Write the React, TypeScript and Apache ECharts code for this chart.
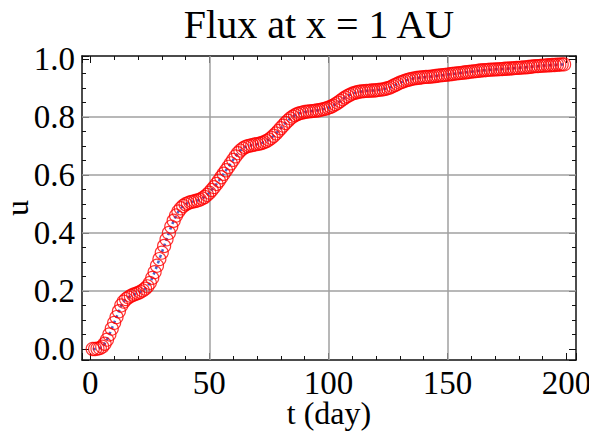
import React, { useEffect, useRef } from "react";
import * as echarts from "echarts";

const TITLE = "Flux at x = 1 AU";
const X_NAME = "t (day)";
const Y_NAME = "u";

const days = [
  1, 2, 3, 4, 5, 6, 7, 8, 9, 10, 11, 12, 13, 14, 15, 16, 17, 18, 19, 20,
  21, 22, 23, 24, 25, 26, 27, 28, 29, 30, 31, 32, 33, 34, 35, 36, 37, 38, 39, 40,
  41, 42, 43, 44, 45, 46, 47, 48, 49, 50, 51, 52, 53, 54, 55, 56, 57, 58, 59, 60,
  61, 62, 63, 64, 65, 66, 67, 68, 69, 70, 71, 72, 73, 74, 75, 76, 77, 78, 79, 80,
  81, 82, 83, 84, 85, 86, 87, 88, 89, 90, 91, 92, 93, 94, 95, 96, 97, 98, 99, 100,
  101, 102, 103, 104, 105, 106, 107, 108, 109, 110, 111, 112, 113, 114, 115, 116, 117, 118, 119, 120,
  121, 122, 123, 124, 125, 126, 127, 128, 129, 130, 131, 132, 133, 134, 135, 136, 137, 138, 139, 140,
  141, 142, 143, 144, 145, 146, 147, 148, 149, 150, 151, 152, 153, 154, 155, 156, 157, 158, 159, 160,
  161, 162, 163, 164, 165, 166, 167, 168, 169, 170, 171, 172, 173, 174, 175, 176, 177, 178, 179, 180,
  181, 182, 183, 184, 185, 186, 187, 188, 189, 190, 191, 192, 193, 194, 195, 196, 197, 198, 199,
];

const flux = [
  0.0, 0.0, 0.001, 0.003, 0.008, 0.018, 0.032, 0.05, 0.07, 0.09,
  0.11, 0.13, 0.15, 0.163, 0.172, 0.178, 0.183, 0.187, 0.19, 0.193,
  0.197, 0.202, 0.208, 0.216, 0.228, 0.245, 0.265, 0.287, 0.31, 0.332,
  0.355, 0.378, 0.4, 0.422, 0.442, 0.46, 0.474, 0.485, 0.493, 0.499,
  0.503, 0.506, 0.508, 0.51, 0.512, 0.515, 0.519, 0.524, 0.531, 0.539,
  0.548, 0.558, 0.569, 0.58, 0.592, 0.604, 0.616, 0.628, 0.64, 0.652,
  0.664, 0.675, 0.684, 0.691, 0.696, 0.699, 0.701, 0.703, 0.705, 0.706,
  0.708, 0.71, 0.713, 0.717, 0.722, 0.728, 0.735, 0.743, 0.752, 0.761,
  0.77, 0.779, 0.787, 0.795, 0.801, 0.806, 0.81, 0.813, 0.815, 0.817,
  0.818, 0.819, 0.82, 0.821, 0.822, 0.823, 0.825, 0.827, 0.829, 0.832,
  0.835, 0.839, 0.844, 0.849, 0.855, 0.861, 0.867, 0.872, 0.876, 0.88,
  0.883, 0.885, 0.887, 0.888, 0.889, 0.89, 0.89, 0.891, 0.891, 0.892,
  0.893, 0.894, 0.895, 0.897, 0.899, 0.902, 0.906, 0.91, 0.914, 0.918,
  0.921, 0.924, 0.927, 0.929, 0.931, 0.933, 0.934, 0.935, 0.936, 0.937,
  0.938, 0.938, 0.939, 0.94, 0.941, 0.942, 0.943, 0.944, 0.945, 0.946,
  0.947, 0.948, 0.949, 0.95, 0.951, 0.952, 0.953, 0.954, 0.955, 0.956,
  0.957, 0.958, 0.959, 0.96, 0.961, 0.961, 0.962, 0.963, 0.963, 0.964,
  0.964, 0.965, 0.965, 0.966, 0.966, 0.967, 0.967, 0.968, 0.969, 0.969,
  0.97, 0.971, 0.971, 0.972, 0.973, 0.974, 0.975, 0.975, 0.976, 0.977,
  0.977, 0.978, 0.978, 0.979, 0.979, 0.98, 0.98, 0.981, 0.981,
];

const xGridLines = [50, 100, 150];
const yGridLines = [0.2, 0.4, 0.6, 0.8];
const X_RANGE = [-3.5, 204];
const Y_RANGE = [-0.038, 1.01];
const X_STEP = 50;
const Y_STEP = 0.2;

const FONT = "Liberation Serif";

export default function App() {
  const ref = useRef<HTMLDivElement>(null);
  useEffect(() => {
    if (!ref.current) return;
    const chart = echarts.init(ref.current, null, { renderer: "svg" });
    const points = days.map((d, i) => [d, flux[i]]);

    const xBase = (pos: "bottom" | "top", showLabel: boolean) => ({
      type: "value",
      position: pos,
      min: X_RANGE[0],
      max: X_RANGE[1],
      splitNumber: 4,
      minInterval: X_STEP,
      maxInterval: X_STEP,
      axisLine: { show: true, onZero: false, lineStyle: { color: "#111", width: 1.5 } },
      axisTick: { show: true, inside: true, length: 7, lineStyle: { color: "#111", width: 1 } },
      minorTick: { show: true, splitNumber: 5, length: 4, lineStyle: { color: "#111", width: 1 } },
      splitLine: { show: false },
      axisLabel: {
        show: showLabel,
        showMinLabel: false,
        showMaxLabel: false,
        hideOverlap: false,
        margin: 6,
        color: "#000",
        fontFamily: FONT,
        fontSize: 33,
      },
      name: showLabel ? X_NAME : "",
      nameLocation: "middle",
      nameGap: 37,
      nameMoveOverlap: false,
      nameTextStyle: { color: "#000", fontFamily: FONT, fontSize: 32 },
    });

    const yBase = (pos: "left" | "right", showLabel: boolean) => ({
      type: "value",
      position: pos,
      min: Y_RANGE[0],
      max: Y_RANGE[1],
      splitNumber: 5,
      minInterval: Y_STEP,
      maxInterval: Y_STEP,
      axisLine: { show: true, onZero: false, lineStyle: { color: "#111", width: 1.5 } },
      axisTick: { show: true, inside: true, length: 7, lineStyle: { color: "#111", width: 1 } },
      minorTick: { show: true, splitNumber: 4, length: 4, lineStyle: { color: "#111", width: 1 } },
      splitLine: { show: false },
      axisLabel: {
        show: showLabel,
        showMinLabel: false,
        showMaxLabel: false,
        hideOverlap: false,
        margin: 7,
        color: "#000",
        fontFamily: FONT,
        fontSize: 33,
        formatter: (v: number) => v.toFixed(1),
      },
      name: showLabel ? Y_NAME : "",
      nameLocation: "middle",
      nameGap: 49,
      nameRotate: 90,
      nameMoveOverlap: false,
      nameTextStyle: { color: "#000", fontFamily: FONT, fontSize: 32 },
    });

    chart.setOption({
      animation: false,
      backgroundColor: "#fff",
      grid: {
        left: 82,
        right: 13,
        top: 56,
        bottom: 74,
        containLabel: false,
        outerBoundsMode: "none",
      },
      graphic: [
        {
          type: "text",
          x: 319,
          y: 24,
          style: {
            text: TITLE,
            fill: "#000",
            font: `40px "${FONT}"`,
            align: "center",
            verticalAlign: "middle",
          },
        },
      ],
      xAxis: [xBase("bottom", true), xBase("top", false)],
      yAxis: [yBase("left", true), yBase("right", false)],
      series: [
        {
          type: "line",
          data: points,
          xAxisIndex: 0,
          yAxisIndex: 0,
          z: 10,
          showSymbol: false,
          symbol: "none",
          lineStyle: { color: "#4a62c8", width: 2.5, type: [3, 3] },
          markLine: {
            silent: true,
            symbol: ["none", "none"],
            label: { show: false },
            lineStyle: { color: "#a0a0a0", width: 1.5, type: "solid" },
            data: [
              ...xGridLines.map((v) => ({ xAxis: v })),
              ...yGridLines.map((v) => ({ yAxis: v })),
            ],
          },
        },
        {
          type: "scatter",
          data: points,
          xAxisIndex: 0,
          yAxisIndex: 0,
          z: 11,
          symbol: "circle",
          symbolSize: 13,
          clip: false,
          itemStyle: { color: "rgba(0,0,0,0)", borderColor: "#ff0000", borderWidth: 1.2 },
        },
      ],
    });
    return () => chart.dispose();
  }, []);
  return (
    <div
      ref={ref}
      style={{ position: "absolute", left: 0, top: 0, width: 589, height: 434, background: "#fff" }}
    />
  );
}
